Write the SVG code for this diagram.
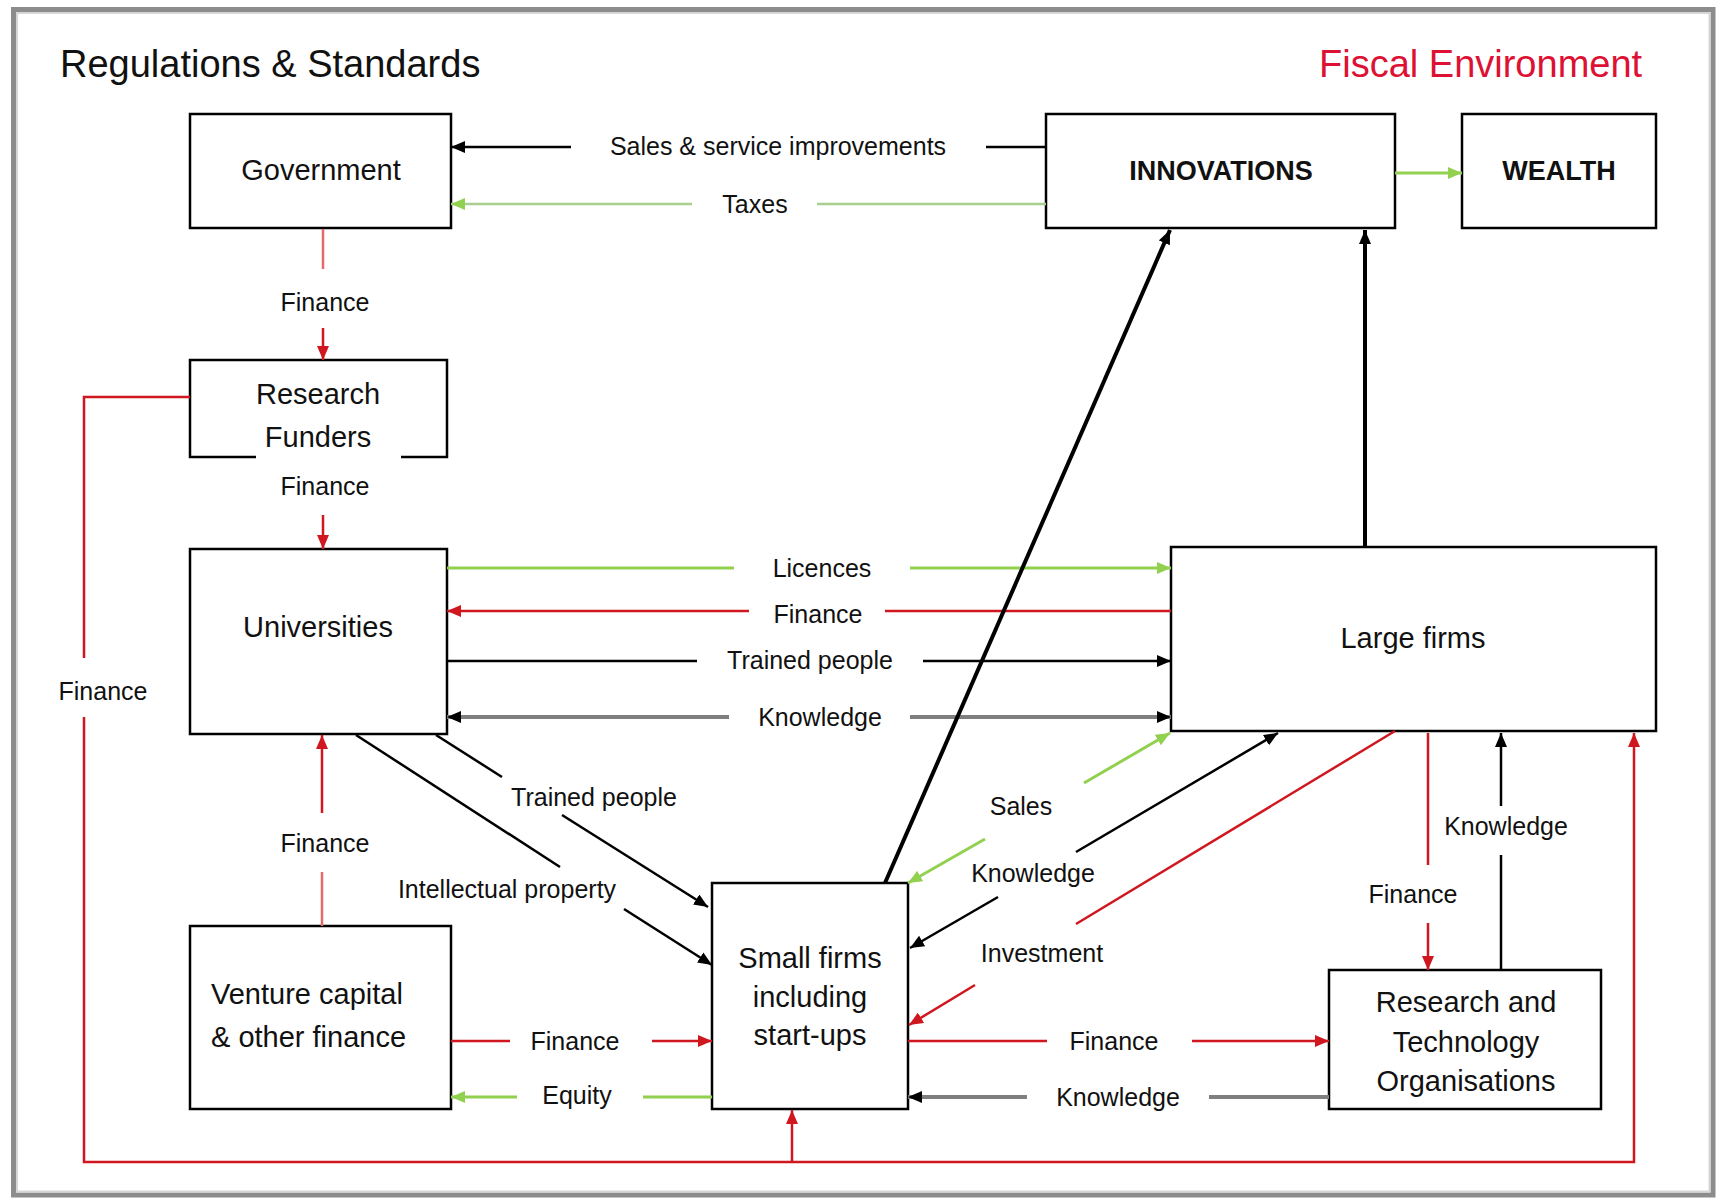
<svg xmlns="http://www.w3.org/2000/svg" width="1721" height="1201" viewBox="0 0 1721 1201">
<style>
.box{fill:#fff;stroke:#000;stroke-width:2.5}
.nl{font-family:"Liberation Sans",Arial,sans-serif;font-size:29px;fill:#111;text-anchor:middle}
.nb{font-family:"Liberation Sans",Arial,sans-serif;font-size:27px;font-weight:bold;fill:#111;text-anchor:middle}
.el{font-family:"Liberation Sans",Arial,sans-serif;font-size:25px;fill:#111;text-anchor:middle}
.ti{font-family:"Liberation Sans",Arial,sans-serif;font-size:38px}
.r{stroke:#d0171f;stroke-width:2.5;fill:none}
.rl{stroke:#e26a6a;stroke-width:2.5;fill:none}
.g{stroke:#92d050;stroke-width:3;fill:none}
.gl{stroke:#a9d08e;stroke-width:2.5;fill:none}
.k{stroke:#000;stroke-width:2.5;fill:none}
.kt{stroke:#000;stroke-width:4;fill:none}
.gy{stroke:#7f7f7f;stroke-width:4;fill:none}
</style>
<defs>
<marker id="ak" markerUnits="userSpaceOnUse" markerWidth="14" markerHeight="12" refX="14" refY="6" orient="auto"><path d="M0,0 L14,6 L0,12 z" fill="#000"/></marker>
<marker id="ar" markerUnits="userSpaceOnUse" markerWidth="14" markerHeight="12" refX="14" refY="6" orient="auto"><path d="M0,0 L14,6 L0,12 z" fill="#d0171f"/></marker>
<marker id="ag" markerUnits="userSpaceOnUse" markerWidth="14" markerHeight="12" refX="14" refY="6" orient="auto"><path d="M0,0 L14,6 L0,12 z" fill="#92d050"/></marker>
</defs>
<rect x="0" y="0" width="1721" height="1201" fill="#fff"/>
<rect x="13.5" y="9.5" width="1699.5" height="1185.5" fill="none" stroke="#8c8c8c" stroke-width="5"/>
<rect x="17" y="13" width="1692.5" height="1178.5" fill="none" stroke="#d6d6d6" stroke-width="2"/>

<text class="ti" x="60" y="77" fill="#111">Regulations &amp; Standards</text>
<text class="ti" x="1319" y="77" fill="#dd1133">Fiscal Environment</text>

<g id="government"><rect class="box" x="190" y="114" width="261" height="114"/><text class="nl" x="321" y="180">Government</text></g>
<g id="research-funders"><path class="box" d="M256,457 H190 V360 H447 V457 H401"/><text class="nl" x="318" y="404">Research</text><text class="nl" x="318" y="447">Funders</text></g>
<g id="universities"><rect class="box" x="190" y="549" width="257" height="185"/><text class="nl" x="318" y="637">Universities</text></g>
<g id="venture-capital"><rect class="box" x="190" y="926" width="261" height="183"/><text class="nl" x="211" y="1004" text-anchor="start" style="text-anchor:start">Venture capital</text><text class="nl" x="211" y="1047" style="text-anchor:start">&amp; other finance</text></g>
<g id="small-firms"><rect class="box" x="712" y="883" width="196" height="226"/><text class="nl" x="810" y="968">Small firms</text><text class="nl" x="810" y="1007">including</text><text class="nl" x="810" y="1045">start-ups</text></g>
<g id="innovations"><rect class="box" x="1046" y="114" width="349" height="114"/><text class="nb" x="1221" y="180">INNOVATIONS</text></g>
<g id="wealth"><rect class="box" x="1462" y="114" width="194" height="114"/><text class="nb" x="1559" y="180">WEALTH</text></g>
<g id="large-firms"><rect class="box" x="1171" y="547" width="485" height="184"/><text class="nl" x="1413" y="648">Large firms</text></g>
<g id="rto"><rect class="box" x="1329" y="970" width="272" height="139"/><text class="nl" x="1466" y="1012">Research and</text><text class="nl" x="1466" y="1052">Technology</text><text class="nl" x="1466" y="1091">Organisations</text></g>

<g id="connectors">
<line class="k" x1="986" y1="147" x2="1046" y2="147"/>
<line class="k" x1="571" y1="147" x2="451" y2="147" marker-end="url(#ak)"/>
<text class="el" x="778" y="155">Sales &amp; service improvements</text>
<line class="gl" x1="1046" y1="204" x2="817" y2="204"/>
<line class="gl" x1="692" y1="204" x2="451" y2="204" marker-end="url(#ag)"/>
<text class="el" x="755" y="213">Taxes</text>
<line class="g" x1="1395" y1="173" x2="1462" y2="173" marker-end="url(#ag)"/>

<line class="rl" x1="323" y1="229" x2="323" y2="269"/>
<text class="el" x="325" y="311">Finance</text>
<line class="r" x1="323" y1="328" x2="323" y2="360" marker-end="url(#ar)"/>
<text class="el" x="325" y="495">Finance</text>
<line class="r" x1="323" y1="515" x2="323" y2="549" marker-end="url(#ar)"/>

<polyline class="r" points="190,397 84,397 84,658"/>
<polyline class="r" points="84,717 84,1162 1634,1162 1634,733" marker-end="url(#ar)"/>
<text class="el" x="103" y="700">Finance</text>
<line class="r" x1="792" y1="1162" x2="792" y2="1110" marker-end="url(#ar)"/>

<line class="rl" x1="322" y1="926" x2="322" y2="872"/>
<text class="el" x="325" y="852">Finance</text>
<line class="r" x1="322" y1="813" x2="322" y2="735" marker-end="url(#ar)"/>

<line class="g" x1="447" y1="568" x2="734" y2="568"/>
<line class="g" x1="910" y1="568" x2="1171" y2="568" marker-end="url(#ag)"/>
<text class="el" x="822" y="577">Licences</text>
<line class="r" x1="1171" y1="611" x2="885" y2="611"/>
<line class="r" x1="749" y1="611" x2="447" y2="611" marker-end="url(#ar)"/>
<text class="el" x="818" y="623">Finance</text>
<line class="k" x1="447" y1="661" x2="697" y2="661"/>
<line class="k" x1="923" y1="661" x2="1171" y2="661" marker-end="url(#ak)"/>
<text class="el" x="810" y="669">Trained people</text>
<line class="gy" x1="729" y1="717" x2="447" y2="717" marker-end="url(#ak)"/>
<line class="gy" x1="910" y1="717" x2="1171" y2="717" marker-end="url(#ak)"/>
<text class="el" x="820" y="726">Knowledge</text>

<line class="kt" x1="885" y1="883" x2="1170" y2="230" marker-end="url(#ak)"/>
<line class="kt" x1="1365" y1="547" x2="1365" y2="230" marker-end="url(#ak)"/>

<line class="k" x1="436" y1="735" x2="502" y2="777"/>
<line class="k" x1="562" y1="815" x2="708" y2="907" marker-end="url(#ak)"/>
<text class="el" x="594" y="806">Trained people</text>
<line class="k" x1="356" y1="735" x2="560" y2="867"/>
<line class="k" x1="624" y1="909" x2="712" y2="965" marker-end="url(#ak)"/>
<text class="el" x="507" y="898">Intellectual property</text>

<line class="g" x1="1084" y1="783" x2="1170" y2="733" marker-end="url(#ag)"/>
<line class="g" x1="985" y1="839" x2="908" y2="883" marker-end="url(#ag)"/>
<text class="el" x="1021" y="815">Sales</text>
<line class="k" stroke-width="2" x1="1076" y1="852" x2="1278" y2="733" marker-end="url(#ak)"/>
<line class="k" stroke-width="2" x1="998" y1="897" x2="910" y2="948" marker-end="url(#ak)"/>
<text class="el" x="1033" y="882">Knowledge</text>
<line class="r" stroke-width="2" x1="1395" y1="731" x2="1076" y2="924"/>
<line class="r" stroke-width="2" x1="975" y1="985" x2="909" y2="1025" marker-end="url(#ar)"/>
<text class="el" x="1042" y="962">Investment</text>

<line class="r" stroke-width="2" x1="1428" y1="733" x2="1428" y2="865"/>
<line class="r" stroke-width="2" x1="1428" y1="923" x2="1428" y2="970" marker-end="url(#ar)"/>
<text class="el" x="1413" y="903">Finance</text>
<line class="k" x1="1501" y1="970" x2="1501" y2="855"/>
<line class="k" x1="1501" y1="806" x2="1501" y2="733" marker-end="url(#ak)"/>
<text class="el" x="1506" y="835">Knowledge</text>

<line class="r" x1="908" y1="1041" x2="1047" y2="1041"/>
<line class="r" x1="1192" y1="1041" x2="1329" y2="1041" marker-end="url(#ar)"/>
<text class="el" x="1114" y="1050">Finance</text>
<line class="gy" x1="1329" y1="1097" x2="1209" y2="1097"/>
<line class="gy" x1="1027" y1="1097" x2="908" y2="1097" marker-end="url(#ak)"/>
<text class="el" x="1118" y="1106">Knowledge</text>
<line class="r" x1="451" y1="1041" x2="510" y2="1041"/>
<line class="r" x1="652" y1="1041" x2="712" y2="1041" marker-end="url(#ar)"/>
<text class="el" x="575" y="1050">Finance</text>
<line class="g" x1="712" y1="1097" x2="643" y2="1097"/>
<line class="g" x1="517" y1="1097" x2="451" y2="1097" marker-end="url(#ag)"/>
<text class="el" x="577" y="1104">Equity</text>
</g>
</svg>
